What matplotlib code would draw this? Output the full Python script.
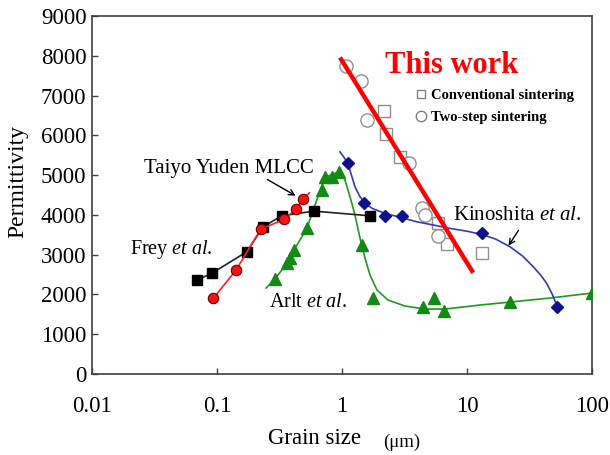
import matplotlib
matplotlib.use("Agg")
import matplotlib.pyplot as plt
from matplotlib.lines import Line2D

plt.rcParams['font.family'] = ['Liberation Serif', 'DejaVu Serif']
plt.rcParams['mathtext.fontset'] = 'custom'
plt.rcParams['mathtext.rm'] = 'Liberation Serif'
plt.rcParams['mathtext.it'] = 'Liberation Serif:italic'

# ---- data (grain size in um, permittivity) ----
frey_x = [0.0688, 0.0908, 0.173, 0.234, 0.330, 0.597, 1.675]
frey_y = [2362, 2530, 3073, 3701, 3977, 4095, 3977]

taiyo_x = [0.0934, 0.142, 0.224, 0.345, 0.426, 0.485]
taiyo_y = [1902, 2613, 3643, 3887, 4138, 4389]
taiyo_line_x = [0.0934, 0.142, 0.224, 0.345, 0.426, 0.485, 0.548]
taiyo_line_y = [1902, 2613, 3643, 3887, 4138, 4389, 4555]

arlt_x = [0.291, 0.363, 0.384, 0.413, 0.525, 0.688, 0.731, 0.827, 0.946,
          1.45, 1.77, 4.47, 5.47, 6.55, 22.1, 99.5]
arlt_y = [2387, 2789, 2915, 3116, 3668, 4623, 4957, 4957, 5075,
          3241, 1910, 1691, 1902, 1590, 1817, 2043]
arlt_curve_x = [0.247, 0.291, 0.363, 0.413, 0.525, 0.608, 0.692, 0.773, 0.879,
                0.964, 1.05, 1.117, 1.19, 1.27, 1.393, 1.528, 1.675, 1.905, 2.333, 3.19,
                4.61, 6.67, 12.7, 22.1, 46.1, 100]
arlt_curve_y = [2161, 2387, 2789, 3116, 3668, 4246, 4749, 4975, 5050,
                5075, 4900, 4623, 4330, 3995, 3417, 2915, 2487, 2111, 1859, 1709,
                1633, 1633, 1734, 1809, 1910, 2035]

kino_x = [1.11, 1.51, 2.21, 3.04, 13.1, 52.8]
kino_y = [5309, 4304, 3977, 3977, 3550, 1691]
kino_curve_x = [0.964, 1.03, 1.11, 1.19, 1.27, 1.38, 1.51, 1.75, 2.21, 3.0, 3.96,
                5.5, 7.31, 10.0, 13.1, 17.0, 22.1, 28.0, 33.9, 39.0, 43.4, 48.0, 52.8]
kino_curve_y = [5585, 5460, 5309, 5000, 4706, 4480, 4304, 4160, 4038, 3930, 3827,
                3740, 3661, 3590, 3510, 3390, 3198, 2960, 2696, 2480, 2279, 2010, 1691]

conv_x = [2.18, 2.25, 2.91, 5.89, 6.88, 13.1]
conv_y = [6616, 6030, 5460, 3786, 3266, 3048]

twostep_x = [1.076, 1.419, 1.576, 3.45, 4.34, 4.61, 5.83]
twostep_y = [7739, 7362, 6382, 5294, 4163, 3995, 3475]

thiswork_x = [0.964, 11.2]
thiswork_y = [7957, 2545]

x_ticks = [0.01, 0.1, 1, 10, 100]
x_ticklabels = ['0.01', '0.1', '1', '10', '100']
y_ticks = list(range(0, 9001, 1000))

# ---- figure ----
fig = plt.figure(figsize=(6.10, 4.55), dpi=100)
ax = fig.add_axes([0.1508, 0.178, 0.8197, 0.7868])
ax.set_xscale('log')
ax.set_xlim(0.01, 100)
ax.set_ylim(0, 9000)

green = '#1f9a1f'
navy = '#10108a'
blue_line = '#3a3ab0'

ax.plot(frey_x, frey_y, color='#222222', lw=1.2, marker='s', ms=7,
        mfc='black', mec='black', zorder=4)
ax.plot(taiyo_line_x, taiyo_line_y, color='#ff2020', lw=1.2, zorder=4)
ax.plot(taiyo_x, taiyo_y, ls='none', marker='o', ms=7.5, mfc='#ff1010',
        mec='#600000', mew=0.8, zorder=5)
ax.plot(arlt_curve_x, arlt_curve_y, color=green, lw=1.2, zorder=3)
ax.plot(arlt_x, arlt_y, ls='none', marker='^', ms=8.5, mfc='#138a13',
        mec='#138a13', zorder=4)
ax.plot(kino_curve_x, kino_curve_y, color=blue_line, lw=1.2, zorder=3)
ax.plot(kino_x, kino_y, ls='none', marker='D', ms=6, mfc=navy, mec=navy, zorder=4)
ax.plot(conv_x, conv_y, ls='none', marker='s', ms=8, mfc='white',
        mec='#909090', mew=1.0, zorder=2)
ax.plot(twostep_x, twostep_y, ls='none', marker='o', ms=9.5, mfc='white',
        mec='#909090', mew=1.0, zorder=2)
ax.plot(thiswork_x, thiswork_y, color='#ff0000', lw=3.2, zorder=6,
        solid_capstyle='butt')

# annotations
ax.text(7.52, 7764, 'This work', color='#ff0000', fontsize=22,
        fontweight='bold', ha='center', va='center')
ax.text(0.1247, 5176, 'Taiyo Yuden MLCC', fontsize=15, ha='center', va='center')
ax.annotate('', xy=(0.445, 4447), xytext=(0.242, 4925),
            arrowprops=dict(arrowstyle='->', color='black', lw=1.0))
ax.text(0.0201, 3141, r'Frey $\mathit{et\ al.}$', fontsize=14.5, ha='left', va='center')
ax.text(0.261, 1809, r'Arlt $\mathit{et\ al.}$', fontsize=14.5, ha='left', va='center')
ax.text(7.73, 3995, r'Kinoshita $\mathit{et\ al.}$', fontsize=15, ha='left', va='center')
ax.annotate('', xy=(20.9, 3166), xytext=(26.5, 3668),
            arrowprops=dict(arrowstyle='->', color='black', lw=1.0))

handles = [Line2D([], [], ls='none', marker='s', ms=5.5, mfc='white', mec='#808080'),
           Line2D([], [], ls='none', marker='o', ms=7.5, mfc='white', mec='#808080')]
leg = ax.legend(handles, ['Conventional sintering', 'Two-step sintering'],
                loc='upper left', bbox_to_anchor=(0.648, 0.797), frameon=False,
                prop={'size': 10.5, 'weight': 'bold'}, handlelength=0.7,
                handletextpad=0.35, labelspacing=0.62,
                borderaxespad=0, borderpad=0)

# axes styling
for s in ax.spines.values():
    s.set_color('#404040')
    s.set_linewidth(1.2)
ax.set_xticks(x_ticks)
ax.set_xticklabels(x_ticklabels)
ax.minorticks_off()
ax.set_yticks(y_ticks)
ax.tick_params(axis='both', direction='in', length=4.5, width=1.0,
               color='#404040', labelsize=16.5)
ax.tick_params(axis='x', pad=16)
ax.tick_params(axis='y', pad=4)
ax.set_ylabel('Permittivity', fontsize=17)
ax.yaxis.set_label_coords(-0.128, 0.539)

fig.text(314 / 610, 1 - 438 / 455, 'Grain size', fontsize=16.5, ha='center', va='center')
fig.text(401.5 / 610, 1 - 442 / 455, '(μm)', fontsize=13.5, ha='center', va='center')

fig.savefig('out.png', dpi=100)
